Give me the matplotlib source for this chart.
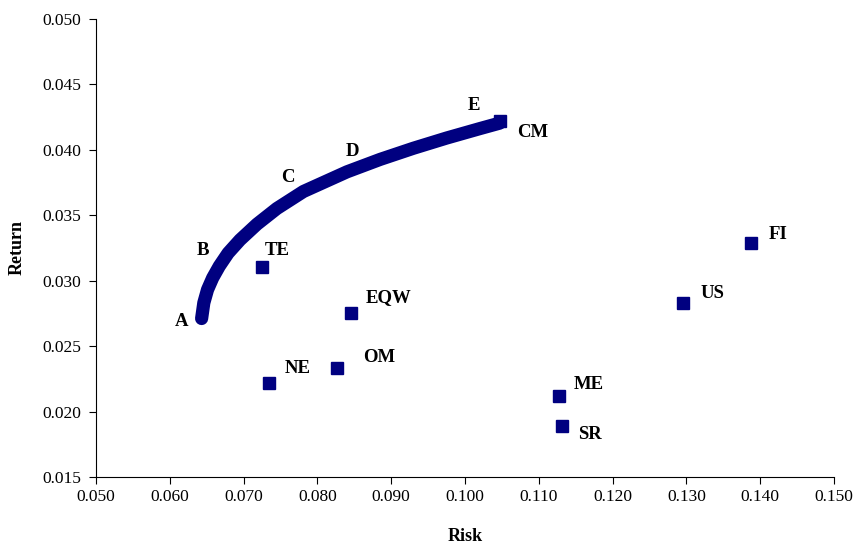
import matplotlib.pyplot as plt

# Efficient frontier (risk, return) traced from A up to E
frontier_risk = [0.0643, 0.0646, 0.0651, 0.0658, 0.0667, 0.0679, 0.0695, 0.0718,
                 0.0745, 0.0781, 0.0840, 0.0885, 0.0930, 0.0975, 0.1020, 0.1047]
frontier_ret = [0.0271, 0.0283, 0.0293, 0.0302, 0.0311, 0.0321, 0.0331, 0.0343,
                0.0355, 0.0368, 0.03830, 0.03925, 0.04010, 0.04088, 0.04160, 0.04202]

# Frontier portfolios A-E
port_names = ["A", "B", "C", "D", "E"]
port_risk = [0.0643, 0.0667, 0.0781, 0.0840, 0.1047]
port_ret = [0.0271, 0.0311, 0.0368, 0.0383, 0.0420]
port_offsets = [(-20, -3), (-16, 16), (-16, 14), (5, 20), (-26, 18)]

# Individual assets / benchmark portfolios
assets = ["TE", "EQW", "OM", "NE", "ME", "SR", "US", "FI", "CM"]
asset_risk = [0.0725, 0.0845, 0.0826, 0.0735, 0.1127, 0.1132, 0.1295, 0.1387, 0.1048]
asset_ret = [0.0310, 0.0275, 0.0233, 0.0222, 0.0212, 0.0189, 0.0283, 0.0329, 0.0422]
asset_offsets = [(3, 17), (15, 16), (26, 11), (15, 14), (15, 11), (16, -9), (18, 9), (18, 8), (17, -12)]

navy = "#000080"
serif = "Liberation Serif"

fig = plt.figure(figsize=(8.58, 5.47), dpi=100)
ax = fig.add_axes([0.112, 0.128, 0.860, 0.838])

ax.plot(frontier_risk, frontier_ret, color=navy, lw=9.5, solid_capstyle="round",
        solid_joinstyle="round", zorder=2)
ax.plot(asset_risk, asset_ret, "s", color=navy, ms=9, zorder=3)

for name, x, y, off in zip(port_names, port_risk, port_ret, port_offsets):
    ax.annotate(name, (x, y), xytext=off, textcoords="offset pixels",
                ha="center", va="center", fontsize=13.5, fontweight="bold", family=serif)

for name, x, y, off in zip(assets, asset_risk, asset_ret, asset_offsets):
    ax.annotate(name, (x, y), xytext=off, textcoords="offset pixels",
                ha="left", va="center", fontsize=13.5, fontweight="bold", family=serif)

ax.set_xlim(0.05, 0.15)
ax.set_ylim(0.015, 0.05)
ax.set_xticks([0.05 + 0.01 * i for i in range(11)])
ax.set_yticks([0.015 + 0.005 * i for i in range(8)])
ax.xaxis.set_major_formatter(plt.FormatStrFormatter("%.3f"))
ax.yaxis.set_major_formatter(plt.FormatStrFormatter("%.3f"))
for lab in ax.get_xticklabels() + ax.get_yticklabels():
    lab.set_family(serif)
    lab.set_fontsize(12.5)
ax.tick_params(direction="out", length=5, width=0.8)
ax.tick_params(axis="x", pad=4)
ax.tick_params(axis="y", pad=6)

ax.spines["top"].set_visible(False)
ax.spines["right"].set_visible(False)

ax.set_xlabel("Risk", family=serif, fontsize=13, fontweight="bold", labelpad=16)
ax.set_ylabel("Return", family=serif, fontsize=13, fontweight="bold", labelpad=12)

fig.savefig("out.png", dpi=100)
